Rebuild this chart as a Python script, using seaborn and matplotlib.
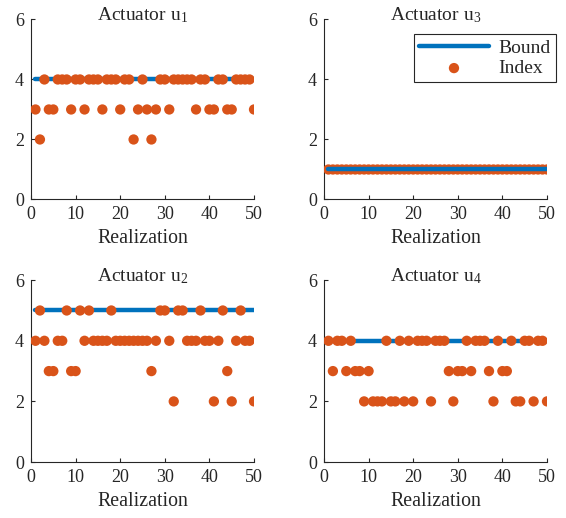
import numpy as np
import pandas as pd
import matplotlib
matplotlib.use("Agg")
import matplotlib.pyplot as plt
import seaborn as sns

# realization index 1..50 and selected actuator index per realization
realization = list(range(1, 51))

index_u1 = [3, 2, 4, 3, 3, 4, 4, 4, 3, 4, 4, 3, 4, 4, 4, 3, 4, 4, 4, 3,
            4, 4, 2, 3, 4, 3, 2, 3, 4, 4, 3, 4, 4, 4, 4, 4, 3, 4, 4, 3,
            3, 4, 4, 3, 3, 4, 4, 4, 4, 3]
index_u2 = [4, 5, 4, 3, 3, 4, 4, 5, 3, 3, 5, 4, 5, 4, 4, 4, 4, 5, 4, 4,
            4, 4, 4, 4, 4, 4, 3, 4, 5, 5, 4, 2, 5, 5, 4, 4, 4, 5, 4, 4,
            2, 4, 5, 3, 2, 4, 5, 4, 4, 2]
index_u3 = [1] * 50
index_u4 = [4, 3, 4, 4, 3, 4, 3, 3, 2, 3, 2, 2, 2, 4, 2, 2, 4, 2, 4, 2,
            4, 4, 4, 2, 4, 4, 4, 3, 2, 3, 3, 4, 3, 4, 4, 4, 3, 2, 4, 3,
            3, 4, 2, 2, 4, 4, 2, 4, 4, 2]

bounds = {"u1": 4, "u2": 5, "u3": 1, "u4": 4}
titles = {"u1": "1", "u2": "2", "u3": "3", "u4": "4"}

sns.set_style("ticks")
plt.rcParams["font.family"] = ["Liberation Serif", "DejaVu Serif"]
plt.rcParams["mathtext.fontset"] = "custom"
plt.rcParams["mathtext.rm"] = "Liberation Serif"

blue = "#0072BD"
orange = "#D95319"

fig = plt.figure(figsize=(5.66, 5.18), dpi=100)
pos = {
    "u1": [0.0548, 0.6149, 0.394, 0.3475],
    "u3": [0.5724, 0.6149, 0.394, 0.3475],
    "u2": [0.0548, 0.1081, 0.394, 0.351],
    "u4": [0.5724, 0.1081, 0.394, 0.351],
}
data = {"u1": index_u1, "u2": index_u2, "u3": index_u3, "u4": index_u4}

for key in ["u1", "u3", "u2", "u4"]:
    ax = fig.add_axes(pos[key])
    df = pd.DataFrame({"Realization": realization, "Index": data[key],
                       "Bound": [bounds[key]] * len(realization)})
    # in u3 the bound line sits on top of the dots
    line_z = 4 if key == "u3" else 2
    sns.lineplot(data=df, x="Realization", y="Bound", ax=ax, color=blue,
                 linewidth=3.2, label="Bound", zorder=line_z)
    sns.scatterplot(data=df, x="Realization", y="Index", ax=ax, color=orange,
                    s=55, edgecolor="none", label="Index", zorder=3)
    ax.set_xlim(0, 50)
    ax.set_ylim(0, 6)
    ax.set_xticks([0, 10, 20, 30, 40, 50])
    ax.set_yticks([0, 2, 4, 6])
    ax.tick_params(direction="in", length=3, labelsize=13, colors="#262626",
                   labelcolor="#262626", pad=5)
    for s in ["left", "bottom"]:
        ax.spines[s].set_color("#262626")
        ax.spines[s].set_linewidth(0.8)
    sns.despine(ax=ax)
    ax.set_xlabel("Realization", fontsize=14.3, color="#262626")
    ax.set_ylabel("")
    ax.set_title("Actuator $\\mathregular{u_%s}$" % titles[key], fontsize=14,
                 y=0.995, pad=0)
    if key == "u3":
        leg = ax.legend(loc="upper right", bbox_to_anchor=(0.982, 0.934),
                        bbox_transform=fig.transFigure, borderaxespad=0,
                        fontsize=14, frameon=True, fancybox=False,
                        framealpha=1, edgecolor="#262626",
                        handlelength=3.6, borderpad=0.25, labelspacing=0.15,
                        handletextpad=0.5)
        leg.get_frame().set_linewidth(0.8)
    else:
        ax.get_legend().remove()

fig.savefig("out.png", dpi=100)
